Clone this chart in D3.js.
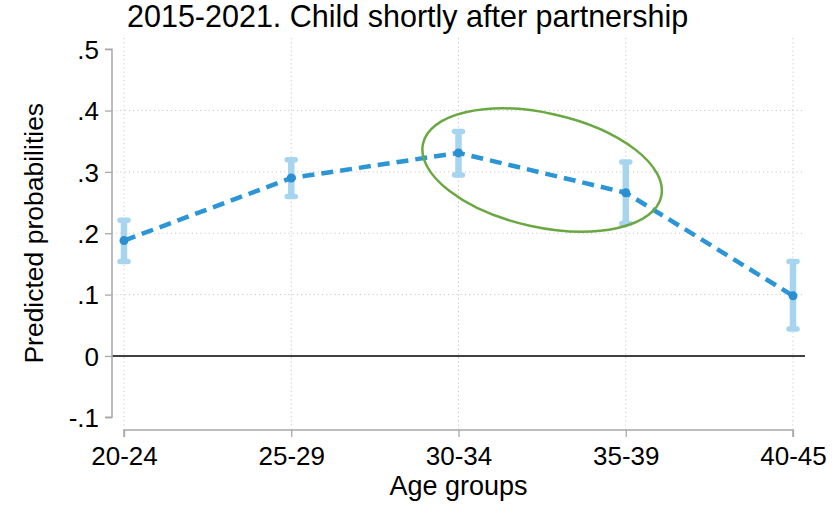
<!DOCTYPE html>
<html>
<head>
<meta charset="utf-8">
<script src="https://cdn.jsdelivr.net/npm/d3@7"></script>
<style>
  body { margin: 0; background: #fff; }
  text { font-family: "Liberation Sans", Arial, sans-serif; fill: #000; }
</style>
</head>
<body>
<div id="chart"></div>
<script>
// Data
var ageGroups = ['20-24', '25-29', '30-34', '35-39', '40-45'];
var predicted = [0.188, 0.290, 0.331, 0.266, 0.098];
var ciLower = [0.154, 0.260, 0.295, 0.216, 0.044];
var ciUpper = [0.221, 0.320, 0.366, 0.316, 0.154];
var yTicks = [-0.1, 0, 0.1, 0.2, 0.3, 0.4, 0.5];
var yTickLabels = ['-.1', '0', '.1', '.2', '.3', '.4', '.5'];
var gridTicks = [0.1, 0.2, 0.3, 0.4];

// highlight ellipse around 30-34 / 35-39 (centre between those groups)
var highlightFrom = 2, highlightTo = 3, highlightValue = 0.303;

var chart_width = 835;
var chart_height = 509;

var svg = d3.select('#chart')
  .append('svg')
  .attr('width', chart_width)
  .attr('height', chart_height);

// Scales
var xScale = d3.scalePoint()
  .domain(ageGroups)
  .range([124, 793]);

var yScale = d3.scaleLinear()
  .domain([-0.1, 0.5])
  .range([417.3, 49.2]);

var plotLeft = 112, plotRight = 805, plotTop = 38, plotBottom = 430;

// Grid
svg.selectAll('.hgrid')
  .data(gridTicks)
  .enter()
  .append('line')
  .attr('x1', plotLeft)
  .attr('x2', plotRight)
  .attr('y1', function (d) { return yScale(d); })
  .attr('y2', function (d) { return yScale(d); })
  .attr('stroke', '#c8c8c8')
  .attr('stroke-width', 1)
  .attr('stroke-dasharray', '1.2,3');

svg.selectAll('.vgrid')
  .data(ageGroups)
  .enter()
  .append('line')
  .attr('x1', function (d) { return xScale(d); })
  .attr('x2', function (d) { return xScale(d); })
  .attr('y1', plotTop)
  .attr('y2', plotBottom)
  .attr('stroke', '#c8c8c8')
  .attr('stroke-width', 1)
  .attr('stroke-dasharray', '1.2,3');

// zero line
svg.append('line')
  .attr('x1', plotLeft)
  .attr('x2', plotRight)
  .attr('y1', yScale(0))
  .attr('y2', yScale(0))
  .attr('stroke', '#000')
  .attr('stroke-width', 1.5);

// Axes
var yAxis = d3.axisLeft(yScale)
  .tickValues(yTicks)
  .tickFormat(function (d, i) { return yTickLabels[i]; })
  .tickSize(7)
  .tickPadding(6);

var gy = svg.append('g')
  .attr('transform', 'translate(' + plotLeft + ',0)')
  .call(yAxis);

var xAxis = d3.axisBottom(xScale)
  .tickSize(7)
  .tickPadding(10);

var gx = svg.append('g')
  .attr('transform', 'translate(0,' + plotBottom + ')')
  .call(xAxis);

[gx, gy].forEach(function (g) {
  g.select('.domain').attr('stroke', '#a8a8a8').attr('stroke-width', 1.5);
  g.selectAll('.tick line').attr('stroke', '#a8a8a8').attr('stroke-width', 1.3);
  g.selectAll('.tick text')
    .attr('font-size', 26)
    .attr('font-family', '"Liberation Sans", Arial, sans-serif')
    .attr('fill', '#000');
});
gx.select('.domain').attr('d', 'M' + xScale(ageGroups[0]) + ',7V0H' + xScale(ageGroups[4]) + 'V7');
gy.select('.domain').attr('d', 'M-7,' + yScale(0.5) + 'H0V' + yScale(-0.1) + 'H-7');
gy.selectAll('.tick text').attr('dy', '0.36em');

// Error bars
var ci = ageGroups.map(function (g, i) {
  return { g: g, lo: ciLower[i], hi: ciUpper[i], p: predicted[i] };
});

svg.selectAll('.ci')
  .data(ci)
  .enter()
  .append('line')
  .attr('x1', function (d) { return xScale(d.g); })
  .attr('x2', function (d) { return xScale(d.g); })
  .attr('y1', function (d) { return yScale(d.lo); })
  .attr('y2', function (d) { return yScale(d.hi); })
  .attr('stroke', '#a7d4ee')
  .attr('stroke-width', 6.5);

['lo', 'hi'].forEach(function (k) {
  svg.selectAll('.cap-' + k)
    .data(ci)
    .enter()
    .append('line')
    .attr('x1', function (d) { return xScale(d.g) - 4; })
    .attr('x2', function (d) { return xScale(d.g) + 4; })
    .attr('y1', function (d) { return yScale(d[k]); })
    .attr('y2', function (d) { return yScale(d[k]); })
    .attr('stroke', '#a7d4ee')
    .attr('stroke-width', 5.5)
    .attr('stroke-linecap', 'round');
});

// Dashed line
var line = d3.line()
  .x(function (d) { return xScale(d.g); })
  .y(function (d) { return yScale(d.p); });

svg.append('path')
  .datum(ci)
  .attr('d', line)
  .attr('fill', 'none')
  .attr('stroke', '#2b95d6')
  .attr('stroke-width', 4.5)
  .attr('stroke-dasharray', '12,7');

svg.selectAll('.pt')
  .data(ci)
  .enter()
  .append('circle')
  .attr('cx', function (d) { return xScale(d.g); })
  .attr('cy', function (d) { return yScale(d.p); })
  .attr('r', 4.5)
  .attr('fill', '#2a8fd2');

// Highlight ellipse
var ex = (xScale(ageGroups[highlightFrom]) + xScale(ageGroups[highlightTo])) / 2;
var ey = yScale(highlightValue);
svg.append('ellipse')
  .attr('cx', 0)
  .attr('cy', 0)
  .attr('rx', 122)
  .attr('ry', 57)
  .attr('transform', 'translate(' + ex + ',' + ey + ') rotate(12.5)')
  .attr('fill', 'none')
  .attr('stroke', '#6aa842')
  .attr('stroke-width', 2.5);

// Titles
svg.append('text')
  .attr('x', 127)
  .attr('y', 27)
  .attr('font-size', 30.5)
  .text('2015-2021. Child shortly after partnership');

svg.append('text')
  .attr('transform', 'translate(43,' + ((yScale(0.5) + yScale(-0.1)) / 2) + ') rotate(-90)')
  .attr('text-anchor', 'middle')
  .attr('font-size', 26.5)
  .text('Predicted probabilities');

svg.append('text')
  .attr('x', (xScale(ageGroups[0]) + xScale(ageGroups[4])) / 2)
  .attr('y', 495)
  .attr('text-anchor', 'middle')
  .attr('font-size', 27)
  .text('Age groups');
</script>
</body>
</html>
